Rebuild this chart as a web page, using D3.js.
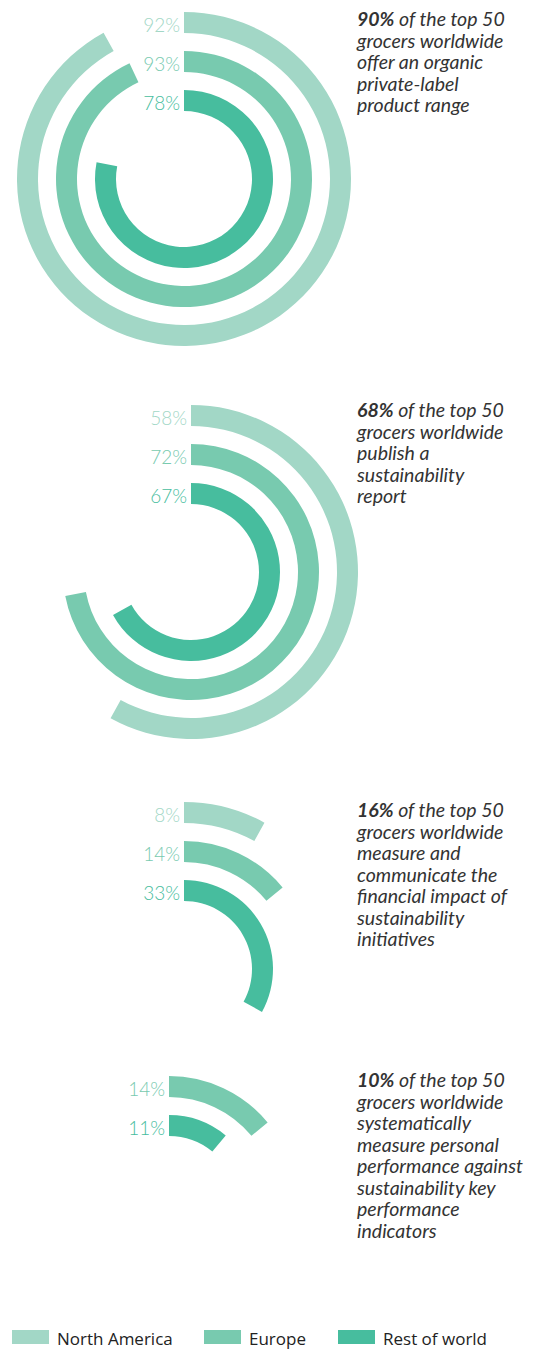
<!DOCTYPE html>
<html>
<head>
<meta charset="utf-8">
<script src="https://cdn.jsdelivr.net/npm/d3@7"></script>
<style>
  html, body { margin: 0; padding: 0; background: #fff; }
  svg { display: block; }
</style>
</head>
<body>
<div id="container"></div>
<script>
// regions, one ring each
const regions = ["North America", "Europe", "Rest of world"];
const colors = ["#a2d7c6", "#78caaf", "#47bd9e"];

// percent per panel (null = no ring)
const northAmerica = [92, 58, 8, null];
const europe = [93, 72, 14, 14];
const restOfWorld = [78, 67, 33, 11];

const headline = ["90%", "68%", "16%", "10%"];
const captions = [
  ["of the top 50", "grocers worldwide", "offer an organic", "private-label", "product range"],
  ["of the top 50", "grocers worldwide", "publish a", "sustainability", "report"],
  ["of the top 50", "grocers worldwide", "measure and", "communicate the", "financial impact of", "sustainability", "initiatives"],
  ["of the top 50", "grocers worldwide", "systematically", "measure personal", "performance against", "sustainability key", "performance", "indicators"]
];

// panel layout
const panels = [
  { cx: 184, cy: 179, textY: 26 },
  { cx: 191, cy: 572, textY: 417 },
  { cx: 184, cy: 969, textY: 817 },
  { cx: 169, cy: 1204, textY: 1087 }
];

const width = 542, height = 1349;
const ringWidth = 21;

let svg = d3.select("#container").append("svg")
  .attr("width", width)
  .attr("height", height);

let angle = d3.scaleLinear().domain([0, 100]).range([0, 2 * Math.PI]);
let radius = d3.scalePoint().domain(regions).range([167, 89]);
let color = d3.scaleOrdinal().domain(regions).range(colors);

let arc = d3.arc()
  .innerRadius(d => radius(d.region) - ringWidth)
  .outerRadius(d => radius(d.region))
  .startAngle(0)
  .endAngle(d => angle(d.value));

panels.forEach((p, i) => {
  let rows = [
    { region: regions[0], value: northAmerica[i] },
    { region: regions[1], value: europe[i] },
    { region: regions[2], value: restOfWorld[i] }
  ].filter(d => d.value != null);

  let g = svg.append("g").attr("transform", `translate(${p.cx},${p.cy})`);

  g.selectAll("path")
    .data(rows)
    .enter()
    .append("path")
    .attr("fill", d => color(d.region))
    .attr("d", arc);

  g.selectAll("text")
    .data(rows)
    .enter()
    .append("text")
    .attr("x", -4)
    .attr("y", d => -(radius(d.region) - ringWidth / 2))
    .attr("dy", "0.5em")
    .attr("text-anchor", "end")
    .style("font-family", "Lato, sans-serif")
    .style("font-weight", 300)
    .style("font-size", "19px")
    .attr("fill", d => color(d.region))
    .text(d => d.value + "%");

  let t = svg.append("text")
    .attr("x", 357)
    .attr("y", p.textY)
    .style("font-family", "Lato, sans-serif")
    .style("font-style", "italic")
    .style("font-size", "19.5px")
    .attr("fill", "#333");
  captions[i].forEach((line, j) => {
    let ts = t.append("tspan").attr("x", 357).attr("dy", j == 0 ? 0 : 21.5);
    if (j == 0) {
      ts.append("tspan").style("font-weight", "bold").text(headline[i]);
      ts.append("tspan").text(" " + line);
    } else {
      ts.text(line);
    }
  });
});

// legend
let legendX = [12, 204, 338];
let legend = svg.selectAll(".legend")
  .data(regions)
  .enter()
  .append("g")
  .attr("class", "legend")
  .attr("transform", (d, i) => `translate(${legendX[i]},1330)`);

legend.append("rect")
  .attr("width", 37)
  .attr("height", 14)
  .attr("fill", d => color(d));

legend.append("text")
  .attr("x", 45)
  .attr("y", 15)
  .style("font-family", "'Open Sans', sans-serif")
  .style("font-size", "17px")
  .attr("fill", "#222")
  .text(d => d);
</script>
</body>
</html>
